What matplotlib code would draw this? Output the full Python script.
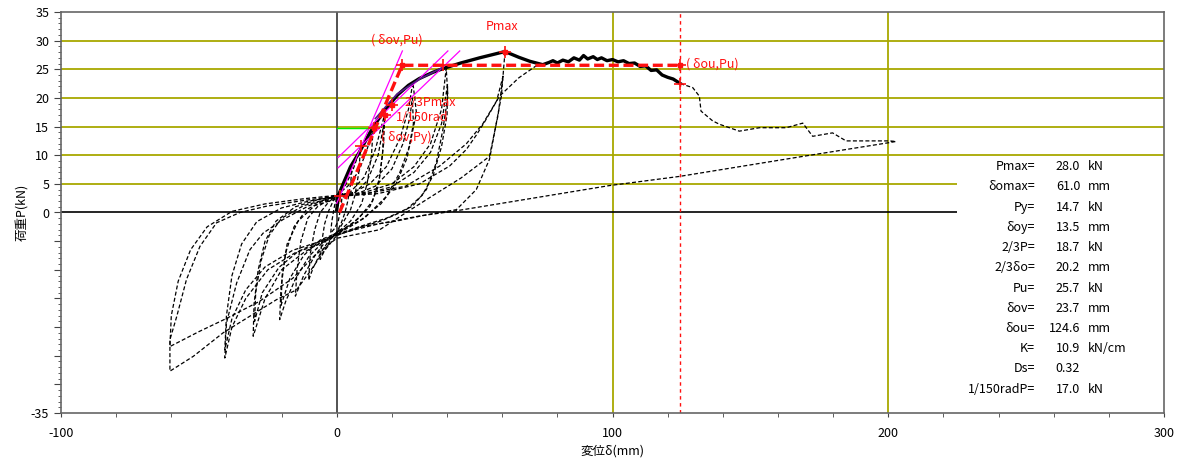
import matplotlib
matplotlib.use("Agg")
import matplotlib.pyplot as plt
from matplotlib.patches import Rectangle

plt.rcParams['font.family'] = ['Noto Sans CJK JP', 'DejaVu Sans']
plt.rcParams['axes.unicode_minus'] = False

# envelope (thick black)
env = [(0.0, 0.5), (0.6, 3.0), (2.5, 5.2), (5.0, 8.0), (8.3, 10.6), (12.0, 13.9), (15.0, 16.2),
       (18.0, 18.2), (22.0, 20.5), (26.0, 22.2), (30.0, 23.4), (35.0, 24.5), (39.0, 25.2),
       (45.0, 26.1), (51.8, 27.0), (56.0, 27.5), (61.0, 28.1), (66.0, 27.1), (70.0, 26.4),
       (74.7, 25.8), (77.0, 26.2), (78.4, 26.5), (80.0, 26.1), (82.0, 26.6), (84.0, 26.3),
       (86.0, 27.0), (88.0, 26.6), (89.5, 27.4), (91.0, 26.8), (93.0, 27.2), (94.5, 26.7),
       (96.0, 27.0), (98.0, 26.5), (100.0, 26.7), (102.0, 26.3), (104.0, 26.5), (106.0, 26.0),
       (108.0, 26.1), (110.0, 25.5), (112.0, 25.6), (114.0, 24.8), (116.0, 24.9), (118.0, 24.0),
       (120.0, 23.6), (122.0, 23.3), (124.6, 22.5)]
env_purple = [(14.0, 16.4), (18.0, 18.6), (22.0, 20.7), (30.0, 23.3), (38.0, 25.2)]

# hysteresis loops (thin dashed)
loop_a = [(0.0, 0.0), (1.0, 2.4), (2.0, 3.3), (1.6, 1.2), (0.6, -1.4), (-0.8, -2.8), (-2.2, -3.6),
          (-1.8, -1.6), (-0.8, 1.2), (0.0, 2.6), (1.2, 3.2)]
loop_b = [(0.0, 2.8), (2.0, 4.4), (4.0, 6.4), (5.6, 8.0), (5.0, 5.0), (4.0, 2.0), (3.0, 0.0),
          (1.5, -2.0), (0.0, -3.4), (-2.0, -4.6), (-4.0, -6.2), (-6.0, -8.2), (-5.4, -5.0),
          (-4.4, -2.0), (-3.0, 0.2), (-1.5, 1.8), (0.0, 3.0)]
loop_c = [(0.0, 3.0), (3.0, 4.6), (6.0, 7.6), (8.6, 11.2), (8.0, 7.0), (6.6, 3.0), (5.0, 0.5),
          (2.0, -2.0), (0.0, -3.6), (-3.0, -5.0), (-6.0, -7.2), (-8.5, -9.6), (-10.2, -11.8),
          (-9.6, -7.2), (-8.0, -3.0), (-6.0, 0.0), (-3.0, 1.8), (0.0, 3.0)]
loop_d = [(0.0, 3.0), (4.0, 4.6), (8.0, 7.2), (11.0, 11.0), (13.2, 14.8), (12.6, 10.0), (11.0, 5.0),
          (9.0, 1.5), (5.0, -1.5), (0.0, -3.6), (-4.0, -5.0), (-8.0, -7.6), (-12.0, -11.0),
          (-15.0, -14.6), (-14.4, -10.0), (-13.0, -5.0), (-10.5, -1.0), (-7.0, 1.0), (-3.0, 2.2),
          (0.0, 3.0)]
loop_e = [(0.0, 2.6), (5.0, 3.6), (10.0, 6.2), (14.0, 11.0), (17.4, 17.2), (17.0, 12.0), (15.5, 6.0),
          (13.0, 2.0), (8.0, -1.0), (3.0, -2.8), (0.0, -3.8), (-5.0, -5.2), (-10.0, -7.6),
          (-15.0, -11.6), (-18.5, -15.5), (-20.7, -18.7), (-20.2, -13.0), (-18.5, -7.0),
          (-15.5, -2.5), (-11.0, 0.5), (-5.0, 2.0), (0.0, 2.6)]
loop_e2 = [(0.0, 2.4), (6.0, 3.2), (11.0, 5.5), (15.0, 10.0), (17.0, 15.2), (16.6, 10.0), (15.0, 4.5),
           (12.0, 1.0), (6.0, -1.8), (0.0, -3.6), (-6.0, -4.8), (-12.0, -7.5), (-17.0, -11.5),
           (-20.2, -16.2), (-19.8, -11.0), (-18.0, -5.5), (-14.0, -1.5), (-8.0, 1.2), (0.0, 2.4)]
loop_f = [(0.0, 3.0), (6.0, 3.5), (12.0, 5.0), (18.0, 8.0), (23.0, 13.0), (26.0, 18.0), (27.6, 22.7),
          (28.9, 17.4), (26.4, 11.6), (22.8, 6.9), (18.0, 2.8), (10.0, -1.0), (0.0, -3.5),
          (-5.0, -5.0), (-12.0, -7.0), (-20.0, -10.0), (-26.0, -15.0), (-30.3, -21.6),
          (-30.0, -16.0), (-28.5, -10.0), (-26.0, -5.0), (-22.0, -1.5), (-15.0, 1.0),
          (-7.0, 2.2), (0.0, 3.0)]
loop_f2 = [(0.0, 2.8), (7.0, 3.2), (14.0, 4.6), (20.0, 7.6), (24.0, 12.0), (26.5, 16.5), (27.4, 20.0),
           (27.8, 15.5), (25.5, 9.5), (21.5, 5.0), (16.0, 1.5), (8.0, -1.6), (0.0, -3.8),
           (-6.0, -5.0), (-14.0, -6.8), (-21.0, -9.6), (-27.0, -14.0), (-29.8, -19.0),
           (-29.4, -14.0), (-27.5, -8.5), (-24.5, -4.0), (-20.0, -1.0), (-12.0, 1.2), (0.0, 2.8)]
loop_g = [(0.0, 3.0), (10.0, 3.5), (20.0, 5.0), (28.0, 8.0), (34.0, 12.0), (38.0, 18.0), (39.7, 25.2),
          (40.3, 20.3), (38.5, 14.5), (36.1, 8.7), (32.5, 4.0), (27.5, 1.1), (18.0, -1.0),
          (8.0, -2.5), (0.0, -3.8), (-6.0, -5.5), (-15.0, -7.0), (-25.0, -10.0), (-33.0, -15.0),
          (-38.0, -20.0), (-40.6, -25.4), (-40.0, -19.3), (-36.3, -12.3), (-31.5, -6.5),
          (-26.7, -3.6), (-19.4, -1.2), (-10.0, 1.2), (0.0, 3.0)]
loop_g2 = [(0.0, 2.8), (10.0, 3.2), (20.0, 4.5), (28.0, 7.0), (34.0, 10.5), (38.0, 15.5), (40.2, 22.4),
           (40.0, 17.0), (38.0, 11.5), (35.0, 6.5), (31.0, 3.0), (25.0, 0.4), (16.0, -1.5),
           (7.0, -2.8), (0.0, -4.0), (-7.0, -5.2), (-16.0, -6.6), (-26.0, -9.5), (-33.0, -13.5),
           (-38.0, -18.5), (-40.6, -24.0), (-40.0, -18.0), (-38.0, -11.0), (-34.5, -5.5),
           (-29.0, -1.6), (-20.0, 0.8), (-10.0, 2.0), (0.0, 2.8)]
loop_h = [(61.0, 28.0), (59.7, 20.3), (55.4, 9.3), (50.6, 4.0), (43.4, 0.5), (33.7, -0.3),
          (21.6, -1.5), (9.5, -2.4), (0.0, -4.0), (-5.0, -7.0), (-10.0, -10.5), (-14.6, -13.5),
          (-21.8, -15.2), (-31.5, -18.1), (-41.2, -21.0), (-52.0, -25.1), (-60.5, -27.7),
          (-60.5, -22.2), (-58.0, -18.1), (-54.5, -11.7), (-49.6, -5.9), (-43.6, -1.8),
          (-35.1, 0.0), (-25.5, 1.1), (-13.4, 2.0), (-1.3, 2.8), (0.0, 3.0)]
loop_h2 = [(0.0, 3.0), (12.0, 3.4), (25.0, 4.6), (37.3, 8.1), (47.0, 12.0), (53.0, 15.5), (58.0, 19.5),
           (60.3, 23.8), (58.5, 17.0), (55.4, 9.8), (45.0, 6.0), (35.0, 3.0), (25.2, 0.0),
           (15.6, -3.0), (0.0, -4.5), (-8.0, -7.5), (-16.0, -11.5), (-28.0, -15.5), (-40.0, -18.5),
           (-50.0, -20.8), (-60.5, -23.4), (-60.0, -18.0), (-57.5, -12.0), (-53.0, -6.5),
           (-47.0, -2.5), (-38.0, 0.2), (-26.0, 1.5), (-12.0, 2.4), (0.0, 3.0)]
final_push = [(0.0, 2.8), (15.0, 3.3), (30.0, 5.0), (40.9, 8.1), (47.0, 11.0), (50.6, 13.5),
              (53.6, 15.8), (59.0, 20.3), (66.0, 23.5), (72.3, 25.6), (75.5, 26.0)]
tail = [(124.6, 22.5), (129.1, 21.8), (131.5, 20.3), (132.1, 17.7), (136.3, 16.0), (138.8, 15.4),
        (146.0, 14.2), (153.3, 14.8), (163.0, 14.8), (169.0, 15.6), (172.6, 13.3), (179.8, 13.9),
        (184.7, 12.5), (191.9, 12.5), (200.4, 12.5), (202.8, 12.4), (200.4, 12.2), (167.8, 9.7),
        (124.3, 6.3), (98.9, 4.7), (42.1, 0.2), (30.0, -0.6), (15.0, -2.0), (0.0, -3.8)]
loops = [loop_a, loop_b, loop_c, loop_d, loop_e, loop_e2, loop_f, loop_f2,
         loop_g, loop_g2, loop_h, loop_h2, final_push, tail]

# evaluation lines
bilinear_x = [1.0, 23.7, 124.6]
bilinear_y = [0.0, 25.7, 25.7]
tangent_1 = [(0.0, 1.6), (23.8, 28.2)]
tangent_2 = [(0.5, 9.6), (40.3, 28.2)]
tangent_3 = [(0.5, 7.8), (44.6, 28.2)]
py_line = [(0.0, 14.7), (13.5, 14.7)]
du = 124.6

plus_pts = [(1.1, 2.9), (8.9, 11.6), (13.5, 14.7), (17.4, 17.0), (20.2, 18.7), (23.7, 25.7),
            (38.4, 25.7), (61.0, 28.0), (124.6, 25.7), (124.6, 22.5)]
dot_pts = [(13.5, 14.7), (17.4, 17.0), (20.2, 18.7), (23.7, 25.7), (61.0, 28.0), (124.6, 25.7)]

table_labels = ["Pmax=", "δomax=", "Py=", "δoy=", "2/3P=", "2/3δo=", "Pu=", "δov=", "δou=",
                "K=", "Ds=", "1/150radP="]
table_values = ["28.0", "61.0", "14.7", "13.5", "18.7", "20.2", "25.7", "23.7", "124.6",
                "10.9", "0.32", "17.0"]
table_units = ["kN", "mm", "kN", "mm", "kN", "mm", "kN", "mm", "mm", "kN/cm", "", "kN"]

olive = "#A8A800"
red = "#FF1010"

fig = plt.figure(figsize=(11.78, 4.61), dpi=100)
ax = fig.add_axes([61 / 1178, 48 / 461, 1103 / 1178, 401 / 461])
ax.set_xlim(-100, 300)
ax.set_ylim(-35, 35)

for yv in [5, 10, 15, 20, 25, 30]:
    ax.axhline(yv, color=olive, lw=1.3, zorder=1)
for xv in [100, 200]:
    ax.axvline(xv, color=olive, lw=1.3, zorder=1)
ax.axhline(0, color="black", lw=1.2, zorder=1)
ax.axvline(0, color="#444444", lw=1.3, zorder=1)

for lp in loops:
    ax.plot([p[0] for p in lp], [p[1] for p in lp], color="black", lw=0.9,
            dashes=(3.2, 1.8), zorder=2)

ax.plot([p[0] for p in env], [p[1] for p in env], color="black", lw=2.4, zorder=3,
        solid_joinstyle="round")
ax.plot([p[0] for p in env_purple], [p[1] for p in env_purple], color="#551a8b", lw=1.2, zorder=3.2)

for ln in [tangent_1, tangent_2, tangent_3]:
    ax.plot([p[0] for p in ln], [p[1] for p in ln], color="#FF00FF", lw=0.9, zorder=3.1)
ax.plot([p[0] for p in py_line], [p[1] for p in py_line], color="#00EE00", lw=1.0, zorder=3.1)

ax.plot(bilinear_x, bilinear_y, color=red, lw=2.4, dashes=(3.0, 1.4), zorder=4)
ax.axvline(du, color=red, lw=1.0, dashes=(2.5, 2.5), zorder=4)
ax.plot([p[0] for p in plus_pts], [p[1] for p in plus_pts], ls="none", marker="+",
        ms=9, mew=1.2, color=red, zorder=5)
ax.plot([p[0] for p in dot_pts], [p[1] for p in dot_pts], ls="none", marker="s",
        ms=3.5, color=red, zorder=5)

tkw = dict(color=red, fontsize=9, va="center", zorder=6)
ax.text(12.6, 30.1, "( δov,Pu)", ha="left", **tkw)
ax.text(60.1, 32.4, "Pmax", ha="center", **tkw)
ax.text(24.4, 19.2, "2/3Pmax", ha="left", **tkw)
ax.text(21.4, 16.6, "1/150rad", ha="left", **tkw)
ax.text(16.0, 13.2, "( δov,Py)", ha="left", **tkw)
ax.text(126.5, 26.0, "( δou,Pu)", ha="left", **tkw)

# white panel holding the result table
ax.add_patch(Rectangle((225, -35), 75, 44.8, facecolor="white", edgecolor="none", zorder=2.4))
for i, (lab, val, unit) in enumerate(zip(table_labels, table_values, table_units)):
    yy = 8.0 - 3.53 * i
    ax.text(253.3, yy, lab, ha="right", va="center", fontsize=9, zorder=6)
    ax.text(269.6, yy, val, ha="right", va="center", fontsize=9, zorder=6)
    ax.text(272.4, yy, unit, ha="left", va="center", fontsize=9, zorder=6)

ax.set_xticks([-100, 0, 100, 200, 300])
ax.set_xticks(range(-80, 300, 20), minor=True)
ax.set_yticks(range(-35, 36, 5))
ax.set_yticklabels(["-35"] + [""] * 6 + [str(v) for v in range(0, 36, 5)])
ax.set_yticks(range(-35, 36, 1), minor=True)
ax.tick_params(axis="both", which="major", labelsize=9, direction="out", color="#444444")
ax.tick_params(axis="y", which="major", length=5)
ax.tick_params(axis="y", which="minor", length=2.5, color="#444444")
ax.tick_params(axis="x", which="major", length=3, pad=7)
ax.tick_params(axis="x", which="minor", length=3, color="#444444")
for sp in ax.spines.values():
    sp.set_color("#666666")
    sp.set_linewidth(1.2)
    sp.set_zorder(7)

ax.set_xlabel("変位δ(mm)", fontsize=9, labelpad=3)
ax.set_ylabel("荷重P(kN)", fontsize=9, labelpad=2)

fig.savefig("out.png", dpi=100)
